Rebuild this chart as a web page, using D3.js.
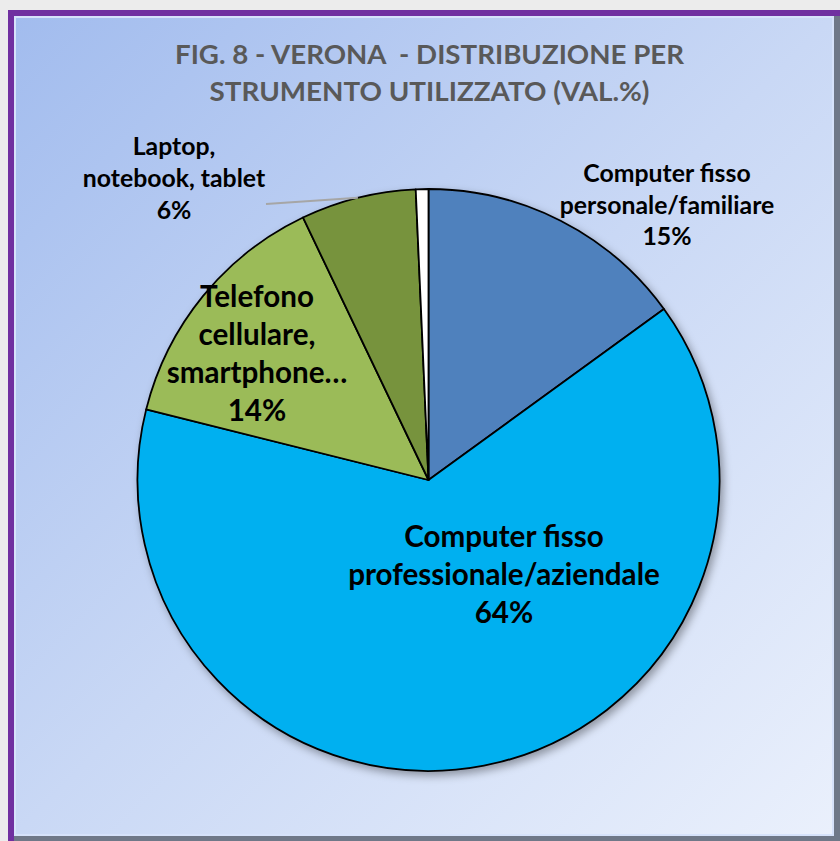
<!DOCTYPE html>
<html>
<head>
<meta charset="utf-8">
<script src="https://cdn.jsdelivr.net/npm/d3@7"></script>
<style>
  html, body { margin: 0; padding: 0; background: #ececec; }
  svg { display: block; }
</style>
</head>
<body>
<div id="chart"></div>
<script>
// data
const categories = [
  "Computer fisso personale/familiare",
  "Computer fisso professionale/aziendale",
  "Telefono cellulare, smartphone…",
  "Laptop, notebook, tablet",
  "Altro"
];
const values = [15.0, 63.9, 14.0, 6.4, 0.7];
const colors = ["#4f81bd", "#00b0f0", "#9bbb59", "#77933c", "#ffffff"];
// label lines as shown in the chart (the percent line is added below)
const labelLines = [
  ["Computer fisso", "personale/familiare"],
  ["Computer fisso", "professionale/aziendale"],
  ["Telefono", "cellulare,", "smartphone…"],
  ["Laptop,", "notebook, tablet"],
  null
];
const titleLines = ["FIG. 8 - VERONA  - DISTRIBUZIONE PER", "STRUMENTO UTILIZZATO (VAL.%)"];

const width = 840, height = 841;
const cx = 428.5, cy = 480, radius = 291;

// layout for labels: centre x, first baseline, font size, line step
const labelLayout = [
  { x: 667, y: 182, size: 24.8, step: 31.5 },
  { x: 504, y: 547, size: 29.6, step: 38 },
  { x: 257, y: 307, size: 29.6, step: 38 },
  { x: 174, y: 155, size: 24.8, step: 32 },
  null
];

const svg = d3.select("#chart").append("svg")
  .attr("width", width)
  .attr("height", height);

const defs = svg.append("defs");

const bg = defs.append("linearGradient")
  .attr("id", "panelBg")
  .attr("x1", "0%").attr("y1", "0%")
  .attr("x2", "100%").attr("y2", "100%");
bg.append("stop").attr("offset", "0%").attr("stop-color", "#a2bcee");
bg.append("stop").attr("offset", "50%").attr("stop-color", "#c9d8f5");
bg.append("stop").attr("offset", "100%").attr("stop-color", "#eaf0fc");

const shadow = defs.append("filter")
  .attr("id", "pieShadow")
  .attr("x", "-20%").attr("y", "-20%")
  .attr("width", "140%").attr("height", "140%");
shadow.append("feDropShadow")
  .attr("dx", 3).attr("dy", 4)
  .attr("stdDeviation", 4)
  .attr("flood-color", "#000")
  .attr("flood-opacity", 0.35);

// purple frame + panel with bevel
svg.append("rect")
  .attr("x", 8).attr("y", 10)
  .attr("width", width - 8).attr("height", height - 10)
  .attr("fill", "#7030a0");
svg.append("rect")
  .attr("x", 14).attr("y", 16)
  .attr("width", width - 14).attr("height", height - 16)
  .attr("fill", "#6f7888");
svg.append("rect")
  .attr("x", 14).attr("y", 16)
  .attr("width", width - 20).attr("height", height - 21)
  .attr("fill", "#d6e2fa");
svg.append("rect")
  .attr("x", 16).attr("y", 18)
  .attr("width", width - 24).attr("height", height - 25)
  .attr("fill", "url(#panelBg)");

// title
svg.append("g")
  .selectAll("text")
  .data(titleLines)
  .join("text")
  .attr("x", cx + 1)
  .attr("y", (d, i) => 64 + i * 37)
  .attr("text-anchor", "middle")
  .attr("font-family", "Lato, 'Open Sans', sans-serif")
  .attr("font-weight", "bold")
  .attr("font-size", 27)
  .attr("fill", "#595959")
  .style("white-space", "pre")
  .attr("textLength", (d, i) => i === 0 ? 509 : 440)
  .attr("lengthAdjust", "spacingAndGlyphs")
  .text(d => d);

// pie
const pie = d3.pie().sort(null).value(d => d);
const arcs = pie(values);
const arc = d3.arc().innerRadius(0).outerRadius(radius);
const edgeArc = d3.arc().innerRadius(radius).outerRadius(radius);

const g = svg.append("g").attr("transform", `translate(${cx},${cy})`);

g.append("g")
  .attr("filter", "url(#pieShadow)")
  .selectAll("path")
  .data(arcs)
  .join("path")
  .attr("d", arc)
  .attr("fill", (d, i) => colors[i])
  .attr("stroke", "#000")
  .attr("stroke-width", 1.8)
  .attr("stroke-linejoin", "round");

// leader line for the small laptop slice
const lapEdge = edgeArc.centroid(arcs[3]);
g.append("line")
  .attr("x1", 266 - cx).attr("y1", 204 - cy)
  .attr("x2", lapEdge[0]).attr("y2", lapEdge[1])
  .attr("stroke", "#a6a6a6")
  .attr("stroke-width", 2);

// labels
const fmt = d3.format(".0f");
const labels = svg.append("g")
  .attr("font-family", "Lato, 'Open Sans', sans-serif")
  .attr("font-weight", "bold")
  .attr("fill", "#000");

labelLines.forEach((lines, i) => {
  if (!lines) return;
  const L = labelLayout[i];
  const all = lines.concat([fmt(values[i]) + "%"]);
  const t = labels.append("text")
    .attr("text-anchor", "middle")
    .attr("font-size", L.size);
  all.forEach((s, j) => {
    t.append("tspan")
      .attr("x", L.x)
      .attr("y", L.y + j * L.step)
      .text(s);
  });
});
</script>
</body>
</html>
